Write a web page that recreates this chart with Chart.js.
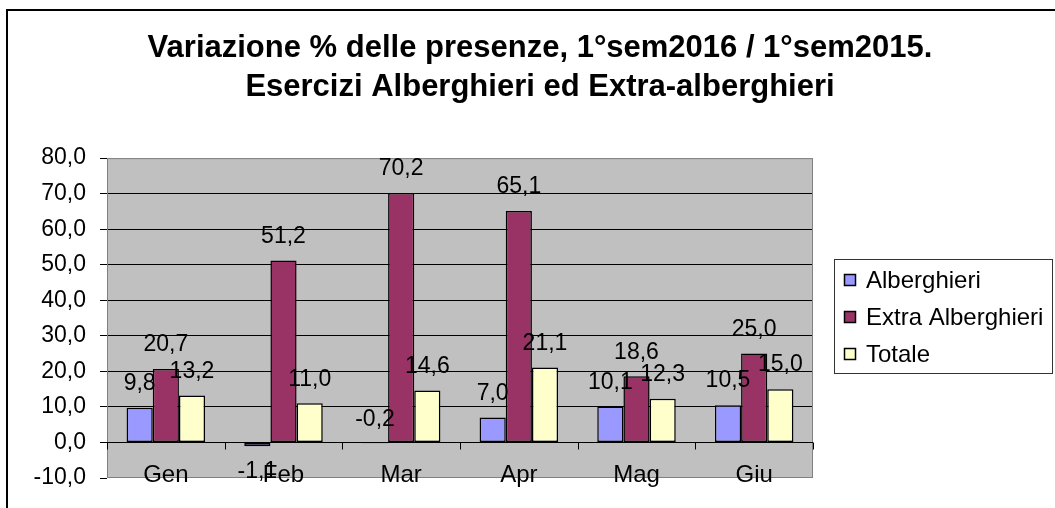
<!DOCTYPE html>
<html>
<head>
<meta charset="utf-8">
<script src="https://cdn.jsdelivr.net/npm/chart.js@4/dist/chart.umd.min.js"></script>
<style>
  body { margin: 0; background: #fff; overflow: hidden; }
</style>
</head>
<body>
<canvas id="chart" width="1055" height="508"></canvas>
<script>
let months = ['Gen', 'Feb', 'Mar', 'Apr', 'Mag', 'Giu'];
let alberghieri = [9.8, -1.1, -0.2, 7.0, 10.1, 10.5];
let extraAlberghieri = [20.7, 51.2, 70.2, 65.1, 18.6, 25.0];
let totale = [13.2, 11.0, 14.6, 21.1, 12.3, 15.0];
let titleLines = ['Variazione % delle presenze, 1°sem2016 / 1°sem2015.', 'Esercizi Alberghieri ed Extra-alberghieri'];

let font = '"Liberation Sans", Arial, sans-serif';

function fmt(v) {
    return v.toFixed(1).replace('.', ',');
}

// grey plot area + outer frame
let background = {
    id: 'background',
    beforeDraw(chart) {
        let c = chart.ctx, a = chart.chartArea;
        c.save();
        c.fillStyle = '#fff';
        c.fillRect(0, 0, chart.width, chart.height);
        c.fillStyle = '#c0c0c0';
        c.fillRect(a.left, a.top, a.right - a.left, a.bottom - a.top);
        c.strokeStyle = '#000';
        c.lineWidth = 2;
        c.beginPath();
        c.moveTo(7, chart.height);
        c.lineTo(7, 10);
        c.lineTo(chart.width, 10);
        c.stroke();
        c.restore();
    },
    beforeDatasetsDraw(chart) {
        let c = chart.ctx, a = chart.chartArea;
        let x = chart.scales.x, y = chart.scales.y;
        c.save();
        c.strokeStyle = '#808080';
        c.lineWidth = 1;
        c.strokeRect(a.left + 0.5, a.top + 0.5, a.right - a.left - 1, a.bottom - a.top - 1);
        // axis line at zero with tick marks between categories
        let y0 = Math.round(y.getPixelForValue(0)) + 0.5;
        c.strokeStyle = '#000';
        c.beginPath();
        c.moveTo(a.left, y0);
        c.lineTo(a.right, y0);
        for (let i = 0; i <= months.length; i++) {
            let px = Math.round(x.getPixelForValue(i - 0.5)) + 0.5;
            c.moveTo(px, y0);
            c.lineTo(px, y0 + 7);
        }
        c.stroke();
        c.restore();
    }
};

// category names sit at the foot of the plot area, like the original
let categoryLabels = {
    id: 'categoryLabels',
    afterDraw(chart) {
        let c = chart.ctx, a = chart.chartArea, x = chart.scales.x;
        c.save();
        c.font = '24px ' + font;
        c.fillStyle = '#000';
        c.textAlign = 'center';
        c.textBaseline = 'alphabetic';
        months.forEach((m, i) => c.fillText(m, x.getPixelForValue(i), a.bottom + 4));
        c.restore();
    }
};

let valueLabels = {
    id: 'valueLabels',
    afterDatasetsDraw(chart) {
        let c = chart.ctx;
        c.save();
        c.font = '23px ' + font;
        c.fillStyle = '#000';
        c.textAlign = 'center';
        c.textBaseline = 'middle';
        chart.data.datasets.forEach((ds, di) => {
            chart.getDatasetMeta(di).data.forEach((bar, i) => {
                let v = ds.data[i];
                let ty = v <= -1 ? bar.y + 25 : bar.y - 24;
                c.fillText(fmt(v), bar.x, ty);
            });
        });
        c.restore();
    }
};

let boxLegend = {
    id: 'boxLegend',
    afterDraw(chart) {
        let c = chart.ctx, a = chart.chartArea;
        let left = a.right + 21, width = 218, height = 114;
        let mid = (a.top + a.bottom) / 2 - 2;
        let top = mid - height / 2;
        c.save();
        c.strokeStyle = '#333';
        c.lineWidth = 1;
        c.strokeRect(Math.round(left) + 0.5, Math.round(top) + 0.5, width, height);
        c.font = '24px ' + font;
        c.textBaseline = 'middle';
        c.textAlign = 'left';
        chart.data.datasets.forEach((ds, i) => {
            let cy = Math.round(mid - 36 + i * 37);
            c.fillStyle = ds.backgroundColor;
            c.fillRect(left + 10, cy - 6, 12, 12);
            c.strokeStyle = '#000';
            c.lineWidth = 1.5;
            c.strokeRect(left + 10.5, cy - 5.5, 11, 11);
            c.fillStyle = '#000';
            c.fillText(ds.label, left + 32, cy + 1);
        });
        c.restore();
    }
};

new Chart(document.getElementById('chart'), {
    type: 'bar',
    data: {
        labels: months,
        datasets: [
            { label: 'Alberghieri', data: alberghieri, backgroundColor: '#9999ff' },
            { label: 'Extra Alberghieri', data: extraAlberghieri, backgroundColor: '#993366' },
            { label: 'Totale', data: totale, backgroundColor: '#ffffcc' }
        ].map(d => Object.assign(d, {
            borderColor: '#000', borderWidth: 1.5, borderSkipped: false,
            categoryPercentage: 0.667, barPercentage: 1.0
        }))
    },
    options: {
        responsive: false,
        animation: false,
        layout: { padding: { left: 25, right: 0, top: 0, bottom: 0 } },
        plugins: {
            legend: { display: false },
            tooltip: { enabled: false },
            title: {
                display: true,
                text: titleLines,
                color: '#000',
                font: { family: font, size: 31, weight: 'bold', lineHeight: 1.26 },
                padding: { top: 29, bottom: 51 }
            }
        },
        scales: {
            x: {
                grid: { display: false, drawTicks: false },
                border: { display: false },
                ticks: { display: false },
                afterFit(s) { s.height = 30; }
            },
            y: {
                min: -10,
                max: 80,
                grid: {
                    color: ctx => (ctx.tick && (ctx.tick.value === 80 || ctx.tick.value === -10)) ? 'rgba(0,0,0,0)' : '#000',
                    tickColor: '#000',
                    tickLength: 7
                },
                border: { display: false },
                ticks: {
                    stepSize: 10,
                    color: '#000',
                    padding: 14,
                    font: { family: font, size: 23 },
                    callback: v => fmt(v)
                },
                afterFit(s) { s.width = 82; }
            },
            legendSpace: {
                type: 'linear',
                position: 'right',
                display: true,
                grid: { display: false, drawTicks: false },
                border: { display: false },
                ticks: { display: false },
                afterFit(s) { s.width = 242; }
            }
        }
    },
    plugins: [background, categoryLabels, valueLabels, boxLegend]
});
</script>
</body>
</html>
